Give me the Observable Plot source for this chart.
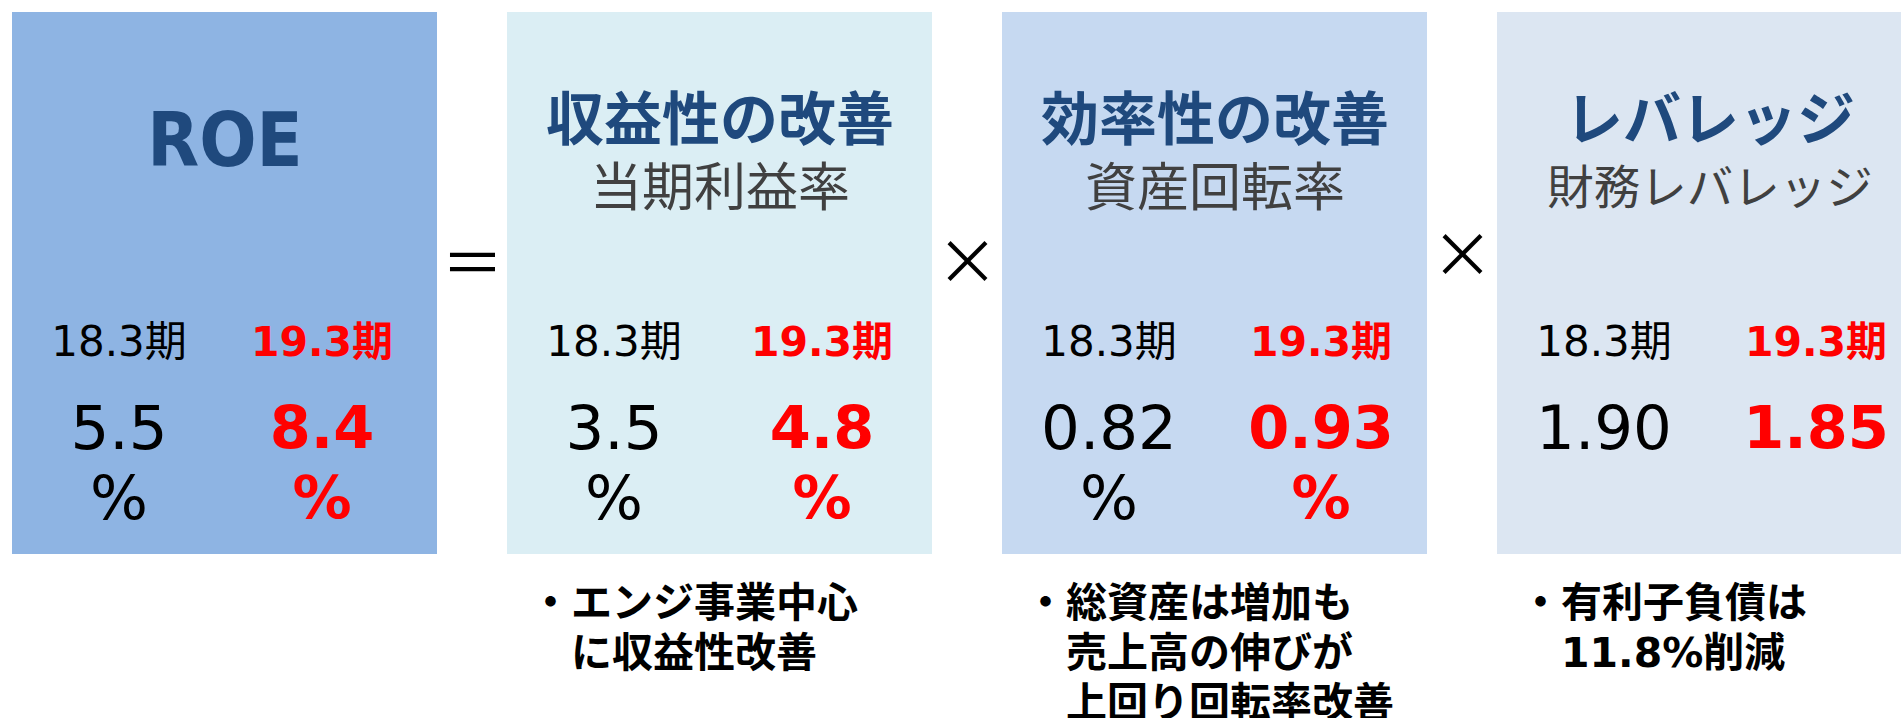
<!DOCTYPE html>
<html>
<head>
<meta charset="utf-8">
<script src="https://cdn.jsdelivr.net/npm/d3@7"></script>
<script src="https://cdn.jsdelivr.net/npm/@observablehq/plot@0.6"></script>
<style>
  html, body { margin: 0; padding: 0; background: #ffffff; overflow: hidden; }
  #chart svg { display: block; }
</style>
</head>
<body>
<div id="chart"></div>
<script>
// ---- data ----
const metrics   = ["ROE", "収益性の改善", "効率性の改善", "レバレッジ"];
const subtitles = ["", "当期利益率", "資産回転率", "財務レバレッジ"];
const periods   = ["18.3期", "19.3期"];
const values183 = [5.5, 3.5, 0.82, 1.90];
const values193 = [8.4, 4.8, 0.93, 1.85];
const decimals  = [1, 1, 2, 2];
const units     = ["%", "%", "%", ""];
const operators = ["＝", "×", "×"];
const notes     = ["", "・エンジ事業中心\n　に収益性改善", "・総資産は増加も\n　売上高の伸びが\n　上回り回転率改善", "・有利子負債は\n　11.8%削減"];

// ---- styles / layout ----
const boxFill = ["#8EB4E3", "#DBEEF4", "#C6D9F1", "#DCE6F2"];
const subSize = [52, 52, 52, 46.5];
const colRight = [97, 102, 106, 106];
const opY = [266, 264.5, 257.5];
const blue = "#1F497D", red = "#FF0000", grey = "#404040";
const cond = "'DejaVu Sans Condensed', 'DejaVu Sans', sans-serif";
const latin = "'DejaVu Sans', 'Noto Sans CJK JP', sans-serif";
const cjk = "'Noto Sans CJK JP', sans-serif";
const row = {top: 12, bottom: 554, roe: 141, title: 121, sub: 189, period: 342, value: 429, unit: 499, note: 581};
const colLeft = -106, halfStep = 247.5;
const fmt = (v, i) => v.toFixed(decimals[i]);

// right-hand (19.3期) column, one group of marks per box
const rightMarks = metrics.flatMap((m, i) => [
  Plot.text([m], {x: d => d, dx: colRight[i], y: row.period, text: () => periods[1], fontSize: 41, fontWeight: 700, fill: red, fontFamily: latin}),
  Plot.text([m], {x: d => d, dx: colRight[i], y: row.value, text: () => fmt(values193[i], i), fontSize: 59, fontWeight: 700, fill: red, fontFamily: latin}),
  Plot.text([m], {x: d => d, dx: colRight[i], y: row.unit, text: () => units[i], fontSize: 59, fontWeight: 700, fill: red, fontFamily: latin})
]);

const chart = Plot.plot({
  width: 1901,
  height: 718,
  margin: 0,
  axis: null,
  x: {type: "band", domain: metrics, range: [12, 1922.6], paddingInner: 0.141, paddingOuter: 0, align: 0},
  y: {type: "identity"},
  color: {type: "identity"},
  marks: [
    Plot.barY(metrics, {x: d => d, y1: row.top, y2: row.bottom, fill: (d, i) => boxFill[i]}),
    // titles
    Plot.text(metrics.slice(0, 1), {x: d => d, y: row.roe, text: d => d, fontSize: 75, fontWeight: 700, fill: blue, fontFamily: cond}),
    Plot.text(metrics.slice(1), {x: d => d, y: row.title, text: d => d, fontSize: 58, fontWeight: 700, fill: blue, fontFamily: cjk}),
    Plot.text(metrics, {x: d => d, y: row.sub, text: (d, i) => subtitles[i], fontSize: (d, i) => subSize[i], fill: grey, fontFamily: cjk}),
    // operators between boxes
    Plot.text(operators, {x: (d, i) => metrics[i], dx: halfStep, y: (d, i) => opY[i], text: d => d, fontSize: 62, fill: "#000", fontFamily: cjk}),
    // left-hand (18.3期) column
    Plot.text(metrics, {x: d => d, dx: colLeft, y: row.period, text: () => periods[0], fontSize: 42, fill: "#000", fontFamily: latin}),
    Plot.text(metrics, {x: d => d, dx: colLeft, y: row.value, text: (d, i) => fmt(values183[i], i), fontSize: 61, fill: "#000", fontFamily: latin}),
    Plot.text(metrics, {x: d => d, dx: colLeft, y: row.unit, text: (d, i) => units[i], fontSize: 61, fill: "#000", fontFamily: latin}),
    ...rightMarks,
    // notes below
    Plot.text(metrics.slice(1), {x: d => d, dx: -190, y: row.note, text: d => notes[metrics.indexOf(d)], textAnchor: "start", lineAnchor: "top", lineHeight: 1.22, fontSize: 41, fontWeight: 700, fill: "#000", fontFamily: latin})
  ]
});
document.getElementById("chart").appendChild(chart);
</script>
</body>
</html>
